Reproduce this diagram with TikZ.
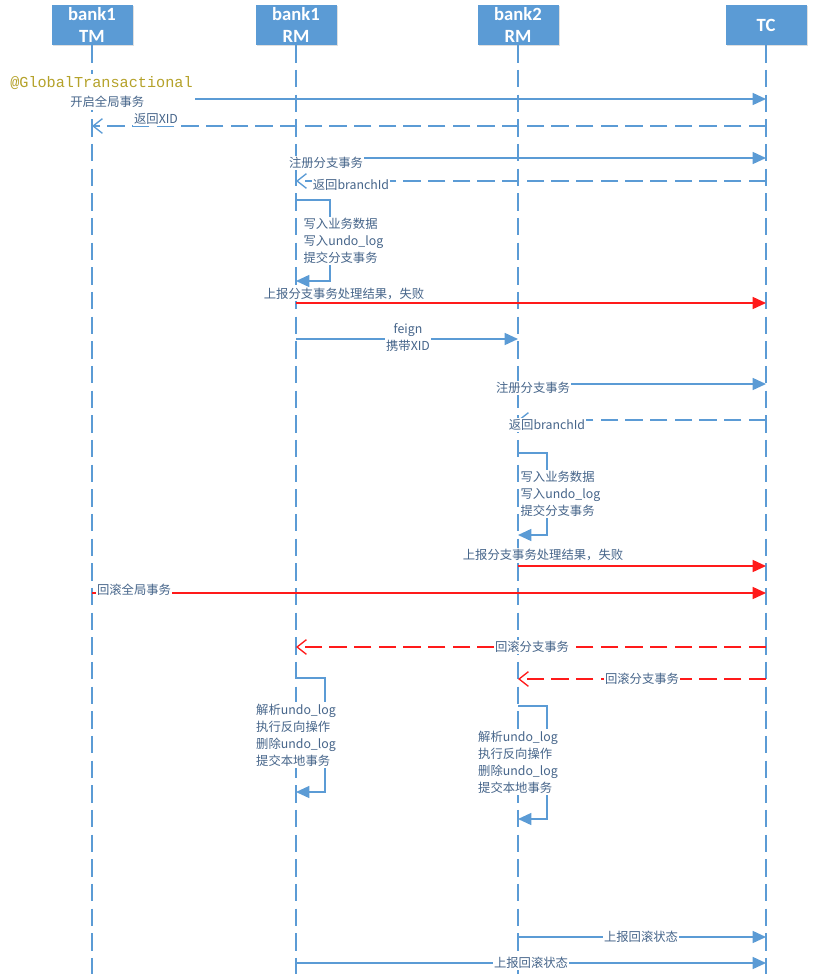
\documentclass[tikz,border=0pt]{standalone}
\usepackage{fontspec}
\usetikzlibrary{arrows.meta,shadows}
\newfontfamily\cjk{Noto Sans CJK SC}
\newfontfamily\hdrfont{Carlito}
\newfontfamily\codefont{Liberation Mono}
\definecolor{seqblue}{HTML}{5B9BD5}
\definecolor{lbltext}{HTML}{46658A}
\definecolor{annot}{HTML}{B5A22A}
\definecolor{failred}{HTML}{FF1A1A}
\tikzset{
  head/.style={fill=seqblue, text=white, inner sep=0pt,
    minimum width=60.75pt, minimum height=30pt, align=center,
    font=\hdrfont\bfseries\fontsize{14}{16.5}\selectfont,
    drop shadow={shadow xshift=1pt, shadow yshift=-1pt, opacity=0.25, fill=gray}},
  lifeline/.style={seqblue, line width=1.1pt, dash pattern=on 13pt off 5.5pt},
  filledtip/.style={-{Triangle[length=10pt,width=9pt]}},
  opentip/.style={-{Straight Barb[length=7pt,width=11pt,line width=1pt]}},
  msg/.style={seqblue, line width=1.1pt, filledtip},
  reply/.style={seqblue, line width=1.1pt, dash pattern=on 13pt off 5.5pt, opentip},
  failmsg/.style={failred, line width=1.1pt, filledtip},
  failreply/.style={failred, line width=1.1pt, dash pattern=on 13pt off 5.5pt, opentip},
  selfcall/.style={seqblue, line width=1.1pt, filledtip},
  lbl/.style={font=\cjk\fontsize{9.25}{12.75}\selectfont, text=lbltext,
    fill=white, inner sep=1pt, align=left},
}
\begin{document}
\begin{tikzpicture}[x=0.75pt, y=-0.75pt]
\useasboundingbox (0,0) rectangle (835,974);

% participants
\node[head] (tm)  at (92,25)  {bank1\\TM};
\node[head] (rm1) at (296,25) {bank1\\RM};
\node[head] (rm2) at (518,25) {bank2\\RM};
\node[head] (tc)  at (766,25) {TC};

% lifelines
\foreach \p in {tm,rm1,rm2,tc} {
  \coordinate (\p-end) at (\p |- 0,974);
  \draw[lifeline] (\p.south) -- (\p-end);
}

% message end points on the lifelines
\coordinate (m1a) at (tm |- 0,99);   \coordinate (m1b) at (tc |- 0,99);
\coordinate (m2a) at (tc |- 0,126);  \coordinate (m2b) at (tm |- 0,126);
\coordinate (m3a) at (rm1 |- 0,158); \coordinate (m3b) at (tc |- 0,158);
\coordinate (m4a) at (tc |- 0,181);  \coordinate (m4b) at (rm1 |- 0,181);
\coordinate (s1a) at (rm1 |- 0,200); \coordinate (s1b) at (rm1 |- 0,281);
\coordinate (m5a) at (rm1 |- 0,303); \coordinate (m5b) at (tc |- 0,303);
\coordinate (m6a) at (rm1 |- 0,339); \coordinate (m6b) at (rm2 |- 0,339);
\coordinate (m7a) at (rm2 |- 0,384); \coordinate (m7b) at (tc |- 0,384);
\coordinate (m8a) at (tc |- 0,420);  \coordinate (m8b) at (rm2 |- 0,420);
\coordinate (s2a) at (rm2 |- 0,453); \coordinate (s2b) at (rm2 |- 0,535);
\coordinate (m9a) at (rm2 |- 0,566); \coordinate (m9b) at (tc |- 0,566);
\coordinate (m10a) at (tm |- 0,593); \coordinate (m10b) at (tc |- 0,593);
\coordinate (m11a) at (tc |- 0,647); \coordinate (m11b) at (rm1 |- 0,647);
\coordinate (m12a) at (tc |- 0,679); \coordinate (m12b) at (rm2 |- 0,679);
\coordinate (s3a) at (rm1 |- 0,678); \coordinate (s3b) at (rm1 |- 0,792);
\coordinate (s4a) at (rm2 |- 0,706); \coordinate (s4b) at (rm2 |- 0,819);
\coordinate (m13a) at (rm2 |- 0,937); \coordinate (m13b) at (tc |- 0,937);
\coordinate (m14a) at (rm1 |- 0,963); \coordinate (m14b) at (tc |- 0,963);

% messages
\draw[msg]       (m1a) -- (m1b);
\draw[reply]     (m2a) -- (m2b);
\draw[msg]       (m3a) -- (m3b);
\draw[reply]     (m4a) -- (m4b);
\draw[selfcall]  (s1a) -- ++(34,0) |- (s1b);
\draw[failmsg]   (m5a) -- (m5b);
\draw[msg]       (m6a) -- (m6b);
\draw[msg]       (m7a) -- (m7b);
\draw[reply]     (m8a) -- (m8b);
\draw[selfcall]  (s2a) -- ++(29,0) |- (s2b);
\draw[failmsg]   (m9a) -- (m9b);
\draw[failmsg]   (m10a) -- (m10b);
\draw[failreply] (m11a) -- (m11b);
\draw[failreply] (m12a) -- (m12b);
\draw[selfcall]  (s3a) -- ++(29,0) |- (s3b);
\draw[selfcall]  (s4a) -- ++(29,0) |- (s4b);
\draw[msg]       (m13a) -- (m13b);
\draw[msg]       (m14a) -- (m14b);

% labels
\node[lbl, anchor=north west, inner sep=1.5pt, inner ysep=2pt] (l1) at (8,74)
  {{\codefont\fontsize{11.4}{14}\selectfont\color{annot}@GlobalTransactional}\\[1pt]\hspace*{45pt}开启全局事务};
\node[lbl] (l2)  at (156,119) {返回XID};
\node[lbl] (l3)  at (326,163) {注册分支事务};
\node[lbl] (l4)  at (351,185) {返回branchId};
\node[lbl, anchor=west] (l5) at (302,241) {写入业务数据\\写入undo\_log\\提交分支事务};
\node[lbl] (l6)  at (344,294) {上报分支事务处理结果，失败};
\node[lbl, align=center] (l7) at (408,337.5) {feign\\携带XID};
\node[lbl] (l8)  at (533,388) {注册分支事务};
\node[lbl] (l9)  at (547,425) {返回branchId};
\node[lbl, anchor=west] (l10) at (519,494) {写入业务数据\\写入undo\_log\\提交分支事务};
\node[lbl] (l11) at (543,555) {上报分支事务处理结果，失败};
\node[lbl] (l12) at (134,590) {回滚全局事务};
\node[lbl] (l13) at (532,647) {回滚分支事务};
\node[lbl] (l14) at (642,679) {回滚分支事务};
\node[lbl] (l15) at (296,735) {解析undo\_log\\执行反向操作\\删除undo\_log\\提交本地事务};
\node[lbl] (l16) at (518,762) {解析undo\_log\\执行反向操作\\删除undo\_log\\提交本地事务};
\node[lbl] (l17) at (641,937) {上报回滚状态};
\node[lbl] (l18) at (531,963) {上报回滚状态};
\end{tikzpicture}
\end{document}
